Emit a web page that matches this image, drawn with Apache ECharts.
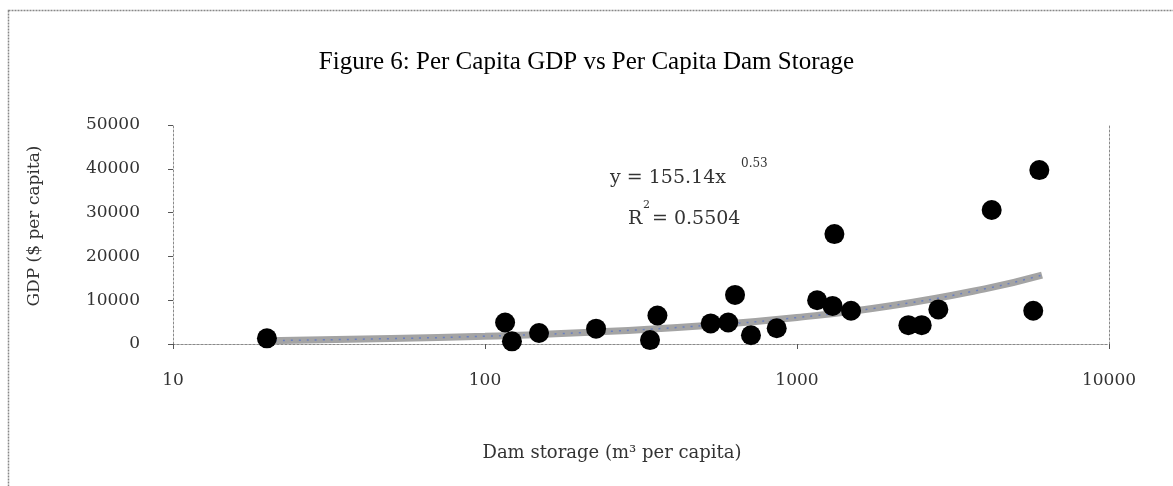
<!DOCTYPE html>
<html>
<head>
<meta charset="utf-8">
<title>Per Capita GDP vs Per Capita Dam Storage</title>
<script src="https://cdn.jsdelivr.net/npm/echarts@6/dist/echarts.min.js"></script>
<style>
  html, body { margin: 0; padding: 0; background: #fff; }
  #chart { width: 1173px; height: 486px; }
</style>
</head>
<body>
<div id="chart"></div>
<script>
// Per capita dam storage (m3 per capita) and per capita GDP ($) by country
const storage = [20, 116, 122, 149, 227, 338, 357, 529, 602, 633, 712, 861, 1160, 1318, 1300, 1490, 2275, 2510, 2838, 4207, 5717, 5980];
const gdp = [1300, 4900, 600, 2500, 3500, 900, 6500, 4700, 4900, 11200, 2000, 3600, 10000, 25100, 8700, 7600, 4300, 4300, 7900, 30600, 7600, 39700];

// Power trend line samples
const trendX = [20, 50, 100, 200, 500, 1000, 2000, 4000, 6100];
const trendY = [760, 1230, 1780, 2570, 4180, 6040, 8720, 12590, 15730];

// Axis ticks
const xTicks = [10, 100, 1000, 10000];
const yTicks = [0, 10000, 20000, 30000, 40000, 50000];

const points = storage.map((s, i) => [s, gdp[i]]);
const trend = trendX.map((s, i) => [s, trendY[i]]);

const serif = 'DejaVu Serif';
const axisGrey = '#8a8a8a';
const plain = v => String(v);

const chart = echarts.init(document.getElementById('chart'), null, { renderer: 'canvas' });

chart.setOption({
  animation: false,
  backgroundColor: '#fff',
  title: {
    text: 'Figure 6: Per Capita GDP vs Per Capita Dam Storage',
    left: 'center',
    top: 45,
    textStyle: { fontFamily: 'Liberation Serif', fontSize: 25, fontWeight: 'normal', color: '#000' }
  },
  grid: { left: 173, right: 64, top: 125, bottom: 142 },
  xAxis: [{
    type: 'log',
    logBase: 10,
    min: xTicks[0],
    max: xTicks[xTicks.length - 1],
    axisLine: { lineStyle: { color: axisGrey, type: [2, 2], width: 1 } },
    axisTick: { show: true, length: 5, lineStyle: { color: '#555' } },
    minorTick: { show: false },
    splitLine: { show: false },
    axisLabel: { margin: 28, fontFamily: serif, fontSize: 17, color: '#333', formatter: plain }
  }, {
    type: 'log',
    logBase: 10,
    position: 'top',
    min: xTicks[0],
    max: xTicks[xTicks.length - 1],
    axisLine: { lineStyle: { color: axisGrey, type: [2, 2], width: 1 } },
    axisTick: { show: false },
    axisLabel: { show: false },
    splitLine: { show: false }
  }],
  yAxis: [{
    type: 'value',
    min: yTicks[0],
    max: yTicks[yTicks.length - 1],
    interval: 10000,
    axisLine: { show: true, lineStyle: { color: axisGrey, type: [2, 2], width: 1 } },
    axisTick: { show: true, length: 5, lineStyle: { color: '#555' } },
    splitLine: { show: false },
    axisLabel: { margin: 33, fontFamily: serif, fontSize: 17, color: '#333', formatter: plain }
  }, {
    type: 'value',
    position: 'right',
    min: yTicks[0],
    max: yTicks[yTicks.length - 1],
    interval: 10000,
    axisLine: { show: true, lineStyle: { color: axisGrey, type: [2, 2], width: 1 } },
    axisTick: { show: false },
    axisLabel: { show: false },
    splitLine: { show: false }
  }],
  series: [{
    name: 'Trend',
    type: 'line',
    data: trend,
    smooth: true,
    showSymbol: false,
    silent: true,
    lineStyle: { color: '#a4a4a4', width: 7 },
    z: 2
  }, {
    name: 'Trend dots',
    type: 'line',
    data: trend,
    smooth: true,
    showSymbol: false,
    silent: true,
    lineStyle: { color: '#6a7fc0', width: 1.5, type: [2, 6] },
    z: 3
  }, {
    name: 'Countries',
    type: 'scatter',
    data: points,
    symbol: 'circle',
    symbolSize: 20,
    itemStyle: { color: '#000', opacity: 1 },
    z: 4
  }],
  graphic: [{
    type: 'rect',
    shape: { x: 8.5, y: 10.5, width: 1300, height: 600 },
    style: { fill: null, stroke: '#888', lineWidth: 1.5, lineDash: [2, 1] },
    silent: true,
    z: -10
  }, {
    type: 'text',
    x: 35, y: 226,
    rotation: Math.PI / 2,
    style: { text: 'GDP ($ per capita)', font: '17px "DejaVu Serif"', fill: '#333', textAlign: 'center', textVerticalAlign: 'middle' }
  }, {
    type: 'text',
    x: 612, y: 453,
    style: { text: 'Dam storage (m³ per capita)', font: '18px "DejaVu Serif"', fill: '#333', textAlign: 'center', textVerticalAlign: 'middle' }
  }, {
    type: 'text',
    x: 610, y: 178,
    style: { text: 'y = 155.14x', font: '19px "DejaVu Serif"', fill: '#333', textAlign: 'left', textVerticalAlign: 'middle' }
  }, {
    type: 'text',
    x: 741, y: 164,
    style: { text: '0.53', font: '12px "DejaVu Serif"', fill: '#333', textAlign: 'left', textVerticalAlign: 'middle' }
  }, {
    type: 'text',
    x: 628, y: 219,
    style: { text: 'R', font: '19px "DejaVu Serif"', fill: '#333', textAlign: 'left', textVerticalAlign: 'middle' }
  }, {
    type: 'text',
    x: 643, y: 205,
    style: { text: '2', font: '11px "DejaVu Serif"', fill: '#333', textAlign: 'left', textVerticalAlign: 'middle' }
  }, {
    type: 'text',
    x: 652, y: 219,
    style: { text: '= 0.5504', font: '19px "DejaVu Serif"', fill: '#333', textAlign: 'left', textVerticalAlign: 'middle' }
  }]
});
</script>
</body>
</html>
